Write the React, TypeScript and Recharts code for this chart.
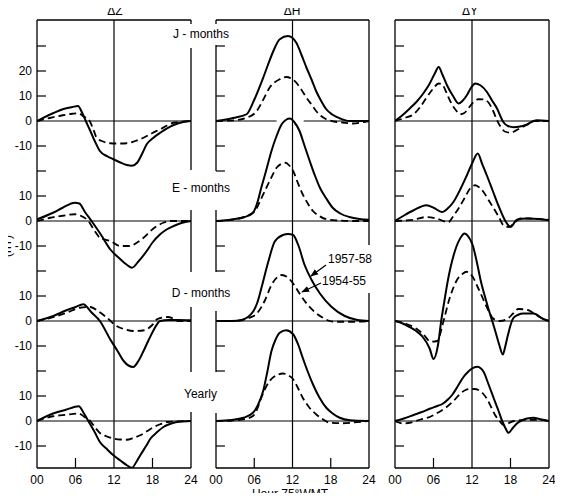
import { LineChart, Line, XAxis, YAxis, ReferenceLine } from "recharts";

type Pt = [number, number];

const FONT = "'Liberation Sans', Arial, Helvetica, sans-serif";

// axis stuff
const hourTicks = [0, 6, 12, 18, 24];
const hourLabels = ["00", "06", "12", "18", "24"];
const panelTitles = ["ΔZ", "ΔH", "ΔY"];
const groupNames = ["J - months", "E - months", "D - months", "Yearly"];
const groupOffsets = [120, 80, 40, 0]; // each group is shifted up by 40 nT
const seriesNames = ["1957-58", "1954-55"];
const yTicks = [-10, 0, 10, 20, 30, 40, 50, 60, 70, 80, 90, 100, 110, 120, 130, 140, 150];
const yTickLabels = ["-10", "0", "10", "", "-10", "0", "10", "", "-10", "0", "10", "", "-10", "0", "10", "20", ""];

// ΔZ  [hour, nT]
const zJ57: Pt[] = [[0, 0], [2.5, 3.1], [4, 4.7], [5.5, 5.6], [6.4, 6], [7, 3.5], [7.6, 0], [8.4, -4.5], [9, -8], [9.8, -12], [11, -14.2], [11.9, -15.3], [13, -16.6], [14, -17.6], [14.8, -17.9], [15.6, -16.7], [16.4, -13], [17.1, -9.3], [18, -7], [19.2, -4.7], [21.3, -1.6], [22.8, -0.4], [24, 0]];
const zJ54: Pt[] = [[0, 0], [2, 1.2], [4, 2.3], [5.5, 2.9], [6.4, 3.1], [7.3, 1.8], [8.2, 0], [8.8, -3.5], [9.3, -6.7], [10.3, -8.2], [11.4, -8.9], [12.7, -9], [14, -8.9], [15.3, -8], [16.6, -6.7], [18, -4.8], [19.2, -3.3], [20.3, -1.8], [21.3, -0.7], [24, 0]];
const zE57: Pt[] = [[0, 0.7], [2.5, 3.3], [4, 5.3], [5.9, 7.3], [6.6, 7], [7.5, 3.5], [8.5, 0], [10, -5.6], [11.4, -11.3], [12.7, -14.6], [14, -17.5], [14.8, -18.7], [15.8, -16.2], [17.1, -12], [18, -8.6], [19.2, -5.3], [20.2, -3.4], [21.3, -2], [22.5, -0.8], [24, 0]];
const zE54: Pt[] = [[0, 0], [2.1, 1.3], [4, 2.1], [5.9, 2.7], [6.9, 2], [8, 0], [9, -4], [9.8, -6.7], [11.4, -8], [13, -10], [14.5, -10], [15.6, -8.6], [16.6, -6.7], [17.7, -4], [18.7, -2], [19.8, -0.6], [20.8, 0], [24, 0]];
const zD57: Pt[] = [[0, 0], [2.55, 2], [4.6, 4.3], [6, 5.6], [7.2, 6.7], [8.5, 3.4], [9.8, 0], [11.4, -7.3], [12.5, -11.8], [13.5, -16], [15, -18.4], [15.8, -16], [16.6, -12], [17.4, -7.6], [18.1, -4], [19.2, 0], [20.5, 0.4], [22, 0.4], [24, 0.3]];
const zD54: Pt[] = [[0, 0], [2.5, 1.5], [4.6, 3.3], [6.7, 5.3], [8.3, 5.6], [9.6, 3.8], [10.9, 1.3], [12.4, -2], [13.8, -3.4], [15, -4], [16.2, -3.9], [17.1, -3.3], [18, -1.5], [18.7, 0.7], [19.5, 1.4], [20.4, 1.6], [21.2, 1], [22, 0], [24, 0]];
const zY57: Pt[] = [[0, 0], [2.5, 3], [4.5, 4.5], [6.5, 5.9], [7.3, 3.1], [8, 0], [9, -4.5], [9.8, -8.4], [10.8, -11], [11.9, -13.7], [13, -15.8], [14, -17.7], [14.8, -18.7], [15.5, -16.3], [16.1, -13.7], [17, -10], [17.7, -7], [18.7, -4.5], [19.7, -2.4], [20.7, -1.2], [21.8, -0.4], [24, 0]];
const zY54: Pt[] = [[0, 0], [2.5, 1.9], [4.5, 2.5], [6.5, 3], [7.4, 1.6], [8.3, 0], [9, -2.4], [9.8, -4.8], [10.8, -6.1], [11.9, -7], [13, -7.4], [14, -7.5], [15, -6.8], [16.1, -5.7], [17.2, -4], [18.2, -2.4], [19.2, -1.3], [20.3, -0.4], [24, 0]];

// ΔH
const hJ57: Pt[] = [[0, 0], [2.7, 1.2], [4.8, 2.7], [6, 8.5], [7.4, 17.3], [8.2, 22.8], [9, 28], [10, 32.7], [11.3, 34], [12.6, 31.3], [13.4, 26.5], [14.2, 21.3], [15, 16.5], [15.7, 12], [16.5, 8], [17.3, 4.7], [18.3, 2.5], [19.4, 1.1], [20.9, 0], [24, 0]];
const hJ54: Pt[] = [[0, 0], [3, 0.3], [4.8, 1.3], [6.4, 4], [7.4, 8.5], [8.4, 13.3], [10, 16.7], [11, 17.6], [12.6, 15.3], [13.4, 12.5], [14.2, 9.3], [15, 6.5], [15.7, 4], [16.5, 2], [17.3, 0.7], [18.5, -0.2], [19.9, -0.6], [21.5, -1], [22.8, -0.6], [24, 0]];
const hE57: Pt[] = [[0, 0], [2.5, 0.6], [4.5, 1.6], [5.8, 3.3], [6.5, 7.5], [7.1, 13.3], [7.9, 20.5], [8.7, 28], [9.5, 34], [10.3, 38.7], [11, 40.5], [11.6, 41], [12.3, 39.5], [13.1, 36], [13.9, 30], [14.7, 24], [15.5, 18.3], [16.3, 13.3], [17.3, 9], [18.3, 5.3], [19.5, 3], [20.9, 1.6], [22.5, 0.8], [24, 0.5]];
const hE54: Pt[] = [[0, 0], [2.5, 0.5], [4.5, 1.7], [6.1, 4], [7, 8.5], [7.9, 13.3], [8.7, 17.5], [9.5, 21.3], [10.2, 22.8], [10.9, 23.3], [11.5, 22.2], [12.1, 20], [12.8, 15.5], [13.6, 10.7], [14.4, 7], [15.2, 4], [16.2, 2], [17.3, 0.7], [19, 0.2], [21.5, 0], [24, 0]];
const hD57: Pt[] = [[0, 0], [2.5, 0], [4, 0.4], [5.8, 3.7], [6.5, 7.5], [7.1, 13], [8.2, 23.7], [9.2, 31.7], [10.5, 34.4], [11.3, 34.8], [12.1, 34.4], [12.9, 30.4], [13.9, 22.4], [15, 16.4], [16.3, 11], [18.1, 5.7], [20.2, 2], [22.2, 0.4], [24, 0]];
const hD54: Pt[] = [[0, 0], [3, 0], [4.2, 0.4], [5.3, 1.3], [6.4, 3], [7.7, 8.4], [8.7, 14.4], [9.7, 17.7], [10.3, 18.4], [11.3, 17.3], [12.1, 15], [13.1, 11], [14.4, 6.4], [15.4, 3.8], [16.5, 1.7], [17.5, 0.3], [18.6, -0.3], [21.9, -0.3], [24, 0]];
const hY57: Pt[] = [[0, 0], [2.5, 0.4], [4.3, 1.3], [5.8, 3.3], [6.6, 6.5], [7.4, 12], [8, 19], [8.7, 28], [9.3, 32.3], [10, 35.3], [11, 36.3], [12.1, 34.7], [12.9, 30.5], [13.6, 25.3], [14.4, 19.7], [15.2, 14.7], [16.2, 9.5], [17.3, 5.3], [18.3, 3], [19.4, 1.3], [21, 0.3], [24, 0]];
const hY54: Pt[] = [[0, 0], [2.5, 0.2], [4.5, 0.8], [5.8, 2], [6.5, 5], [7.1, 9.3], [8.4, 16], [9.5, 18.3], [10.5, 19], [11.3, 18.3], [12.1, 16.7], [12.8, 13.5], [13.6, 9.3], [14.6, 5.5], [15.7, 2.7], [16.7, 0.8], [17.8, -0.7], [19.9, -0.9], [21.5, -0.6], [24, 0]];

// ΔY
const yJ57: Pt[] = [[0, 0], [1.2, 2.4], [2.3, 5], [3.4, 7.8], [4.4, 11], [5.3, 14.5], [6.2, 19], [6.8, 21.6], [7.4, 18.5], [8.1, 14.3], [9, 10.2], [9.9, 7], [10.5, 8], [11.2, 10.3], [11.9, 13.5], [12.5, 15], [13.3, 14.3], [14.3, 11.7], [15.1, 8.3], [15.9, 5], [16.9, -0.5], [17.6, -2], [18.5, -2.5], [19.5, -2.2], [20.6, -1.3], [22.1, 0.3], [24, 0]];
const yJ54: Pt[] = [[0, 0], [1.5, 1.2], [2.9, 2.7], [3.9, 5.5], [4.9, 9.3], [5.9, 12.8], [6.8, 15], [7.3, 14.7], [8, 11.5], [8.6, 8], [9.4, 4.6], [10.2, 2.7], [10.8, 3.2], [11.5, 5.3], [12.2, 7.5], [13, 8.7], [13.8, 8.6], [14.6, 7.3], [15.3, 4], [15.9, 0.3], [16.5, -2.5], [17.2, -4.3], [18, -4.7], [18.5, -4.3], [19.5, -2.8], [20.6, -1.5], [21.6, 0], [24, 0]];
const yE57: Pt[] = [[0, 0], [1.4, 2.2], [2.9, 4.3], [4.9, 6.3], [6.1, 5.2], [7.3, 3.6], [8.2, 5], [9.1, 7.6], [10.2, 12.8], [11.2, 18.3], [12.1, 23.5], [12.9, 27], [13.6, 22.7], [14.3, 18.3], [15.2, 12.3], [16.1, 6.3], [17.2, 0], [18, -2.4], [19, 0.5], [20.6, 1], [22.5, 0.8], [24, 0.3]];
const yE54: Pt[] = [[0, 0], [2.9, 0.5], [4.9, 1.6], [6.5, 1], [8.3, -0.5], [9.1, 2], [9.9, 5], [10.8, 9], [11.7, 13], [12.5, 14.3], [13.2, 13.3], [13.8, 11.6], [14.6, 8.3], [15.4, 5], [16.2, 1.5], [16.9, -1.7], [17.7, -2.4], [18.6, -0.8], [19.5, 1], [21, 1], [22.5, 0.8], [24, 0.5]];
const yD57: Pt[] = [[0, 0], [1.2, -1], [2.2, -2.3], [3.3, -4], [4.3, -6.3], [5.4, -11], [6, -15.2], [6.7, -9.6], [7.2, 0], [7.7, 8], [8.2, 15.7], [9.3, 27.7], [10.4, 34], [10.8, 35], [11.5, 33.5], [12.1, 30.4], [12.8, 23], [13.4, 15.7], [14.1, 9], [14.7, 3.7], [15.3, -1.2], [15.8, -5.6], [16.3, -10], [16.8, -13.4], [17.2, -10], [17.6, -5.6], [18.4, 1], [19.2, 2.5], [20, 3], [21.6, 3], [23.1, 0.8], [24, 0]];
const yD54: Pt[] = [[0, 0], [1.2, -0.6], [2.2, -1.6], [3.3, -3], [4.3, -5], [5.6, -8.3], [6.6, -8], [7.4, -1.6], [8.5, 9], [9.8, 17], [10.5, 18.8], [11.1, 19.7], [12.1, 17.7], [12.9, 13.5], [13.7, 9], [14.5, 4.5], [15.3, 1], [16.3, 0], [17.6, 1], [18.4, 3], [19.2, 4.8], [20.7, 4.4], [22, 2.4], [23, 1], [24, 0]];
const yY57: Pt[] = [[0, 0], [1.5, 1.1], [2.9, 2.4], [4.2, 3.6], [5.5, 5], [6.6, 6], [7.5, 7], [8.2, 8.5], [8.9, 10.4], [9.8, 14], [10.7, 17.7], [11.4, 19.7], [12, 21], [12.8, 21.7], [13.3, 21.2], [13.8, 19.7], [14.6, 14.5], [15.4, 9], [16.1, 4.3], [16.7, 0], [17.2, -2.8], [17.7, -4.7], [18.3, -3], [19, -1], [19.8, 0.3], [20.6, 1], [21.6, 1.3], [22.5, 0.8], [24, 0]];
const yY54: Pt[] = [[0, 0], [0.7, -0.7], [1.3, -1], [2.5, -0.6], [4, 0.6], [5.5, 1.7], [6.8, 3.5], [8.1, 5.7], [9.1, 8], [10.2, 11], [11, 12.4], [11.7, 12.8], [12.4, 12.8], [13, 12.4], [13.7, 11], [14.3, 9], [15, 5.5], [15.6, 2.4], [16.3, 0], [16.9, -1.6], [17.6, -1], [18.5, 0], [19.5, 0.3], [20.6, 0.5], [22.1, 0.5], [24, 0]];

// layout
const Y_MIN = -18.8;
const Y_MAX = 160.4;
const H = 501;

const rows = (pts: Pt[], off: number) => pts.map(([h, v]) => ({ h, v: v + off }));

type Seg = [number, number];

type PanelCfg = {
  left: number;
  width: number;
  margin: { top: number; right: number; bottom: number; left: number };
  curves: [Pt[], Pt[]][];
  labels: boolean;
  leftSegs: Seg[];
  rightSegs: Seg[];
  innerTicks: number[];
  zeroGaps?: { y: number; segs: Seg[] };
};

const nonZero = yTicks.filter((t) => !groupOffsets.includes(t));

const panels: PanelCfg[] = [
  {
    left: 0,
    width: 200,
    margin: { top: 20, right: 9, bottom: 0, left: 0 },
    curves: [[zJ57, zJ54], [zE57, zE54], [zD57, zD54], [zY57, zY54]],
    labels: true,
    leftSegs: [[Y_MIN, Y_MAX]],
    rightSegs: [[158.8, Y_MAX], [100.4, 149.2], [59.6, 84.4], [19.6, 45.6], [Y_MIN, 3.6]],
    innerTicks: nonZero,
  },
  {
    left: 200,
    width: 200,
    margin: { top: 20, right: 31, bottom: 0, left: 16 },
    curves: [[hJ57, hJ54], [hE57, hE54], [hD57, hD54], [hY57, hY54]],
    labels: false,
    leftSegs: [[158.8, Y_MAX], [100, 150.4], [59.6, 84.4], [19.6, 44], [Y_MIN, 3.2]],
    rightSegs: [[Y_MIN, 51.2], [70.4, Y_MAX]],
    innerTicks: [-10, 20, 30, 60, 70, 100, 110, 130, 140, 150],
    zeroGaps: { y: 120, segs: [[0, 9.5], [13.75, 24]] },
  },
  {
    left: 380,
    width: 183,
    margin: { top: 20, right: 14, bottom: 0, left: 15 },
    curves: [[yJ57, yJ54], [yE57, yE54], [yD57, yD54], [yY57, yY54]],
    labels: false,
    leftSegs: [[Y_MIN, Y_MAX]],
    rightSegs: [[Y_MIN, Y_MAX]],
    innerTicks: nonZero,
  },
];

const tickStyle = { fill: "#000", fontSize: 12, fontFamily: FONT };

function Panel({ cfg }: { cfg: PanelCfg }) {
  return (
    <div style={{ position: "absolute", left: cfg.left, top: 0 }}>
      <LineChart width={cfg.width} height={H} margin={cfg.margin}>
        <XAxis
          type="number"
          dataKey="h"
          domain={[0, 24]}
          ticks={hourTicks}
          interval={0}
          allowDataOverflow
          height={33}
          tickLine={false}
          tickSize={0}
          tickMargin={7}
          axisLine={{ stroke: "#000", strokeWidth: 1.3 }}
          tick={tickStyle}
          tickFormatter={(v: number) => hourLabels[hourTicks.indexOf(v)]}
        />
        {cfg.labels ? (
          <YAxis
            type="number"
            domain={[Y_MIN, Y_MAX]}
            allowDataOverflow
            ticks={yTicks}
            interval={0}
            width={37}
            axisLine={false}
            tickLine={false}
            tickSize={0}
            tickMargin={5}
            tick={tickStyle}
            tickFormatter={(v: number) => yTickLabels[yTicks.indexOf(v)] ?? ""}
          />
        ) : (
          <YAxis type="number" domain={[Y_MIN, Y_MAX]} allowDataOverflow hide />
        )}

        {/* frame */}
        <ReferenceLine y={Y_MAX} stroke="#000" strokeWidth={1.3} ifOverflow="visible" />
        {cfg.leftSegs.map((s, i) => (
          <ReferenceLine key={"l" + i} segment={[{ x: 0, y: s[0] }, { x: 0, y: s[1] }]} stroke="#000" strokeWidth={1.3} ifOverflow="visible" />
        ))}
        {cfg.rightSegs.map((s, i) => (
          <ReferenceLine key={"r" + i} segment={[{ x: 24, y: s[0] }, { x: 24, y: s[1] }]} stroke="#000" strokeWidth={1.3} ifOverflow="visible" />
        ))}
        {cfg.innerTicks.map((t) => (
          <ReferenceLine key={"t" + t} segment={[{ x: 0, y: t }, { x: 1.4, y: t }]} stroke="#000" strokeWidth={1.2} ifOverflow="visible" />
        ))}
        {[6, 18].map((h) => (
          <ReferenceLine key={"b" + h} segment={[{ x: h, y: Y_MIN }, { x: h, y: Y_MIN + 4 }]} stroke="#000" strokeWidth={1.2} ifOverflow="visible" />
        ))}
        <ReferenceLine x={12} stroke="#000" strokeWidth={1.2} ifOverflow="visible" />

        {/* zero lines */}
        {groupOffsets.map((off) =>
          cfg.zeroGaps && cfg.zeroGaps.y === off ? (
            cfg.zeroGaps.segs.map((s, i) => (
              <ReferenceLine key={"z" + off + i} segment={[{ x: s[0], y: off }, { x: s[1], y: off }]} stroke="#000" strokeWidth={1} ifOverflow="visible" />
            ))
          ) : (
            <ReferenceLine key={"z" + off} y={off} stroke="#000" strokeWidth={1} ifOverflow="visible" />
          )
        )}

        {cfg.curves.map(([solid, dashed], gi) => [
          <Line
            key={"s" + gi}
            data={rows(solid, groupOffsets[gi])}
            dataKey="v"
            name={seriesNames[0]}
            type="monotone"
            stroke="#000"
            strokeWidth={2}
            dot={false}
            activeDot={false}
            isAnimationActive={false}
          />,
          <Line
            key={"d" + gi}
            data={rows(dashed, groupOffsets[gi])}
            dataKey="v"
            name={seriesNames[1]}
            type="monotone"
            stroke="#000"
            strokeWidth={1.8}
            strokeDasharray="7 4"
            dot={false}
            activeDot={false}
            isAnimationActive={false}
          />,
        ])}
      </LineChart>
    </div>
  );
}

export default function App() {
  const txt = { fontFamily: FONT, fontSize: 12, fill: "#000" };
  return (
    <div style={{ position: "relative", width: 563, height: H, margin: -8, background: "#fff", overflow: "hidden" }}>
      {panels.map((p, i) => (
        <Panel key={i} cfg={p} />
      ))}
      <svg width={563} height={H} style={{ position: "absolute", left: 0, top: 0, pointerEvents: "none" }}>
        <defs>
          <marker id="arr" viewBox="0 0 10 10" refX="9" refY="5" markerWidth="6" markerHeight="6" orient="auto">
            <path d="M0,1 L10,5 L0,9 z" fill="#000" />
          </marker>
        </defs>
        <text {...txt} x={115} y={15} textAnchor="middle">{panelTitles[0]}</text>
        <text {...txt} x={292} y={15} textAnchor="middle">{panelTitles[1]}</text>
        <text {...txt} x={470} y={15} textAnchor="middle">{panelTitles[2]}</text>

        <text {...txt} x={201} y={38} textAnchor="middle">{groupNames[0]}</text>
        <text {...txt} x={201} y={191.5} textAnchor="middle">{groupNames[1]}</text>
        <text {...txt} x={201} y={296.5} textAnchor="middle">{groupNames[2]}</text>
        <text {...txt} x={200.5} y={397.5} textAnchor="middle">{groupNames[3]}</text>

        <text {...txt} x={328} y={262.5}>{seriesNames[0]}</text>
        <text {...txt} x={322} y={284.5}>{seriesNames[1]}</text>
        <line x1={326} y1={265} x2={311} y2={276} stroke="#000" strokeWidth={1.3} markerEnd="url(#arr)" />
        <line x1={321} y1={283} x2={302} y2={292} stroke="#000" strokeWidth={1.3} markerEnd="url(#arr)" />

        <text {...txt} x={290} y={497.5} textAnchor="middle">Hour 75°WMT</text>
        <text {...txt} transform="translate(11,246) rotate(-90)" textAnchor="middle">(nT)</text>
      </svg>
    </div>
  );
}
